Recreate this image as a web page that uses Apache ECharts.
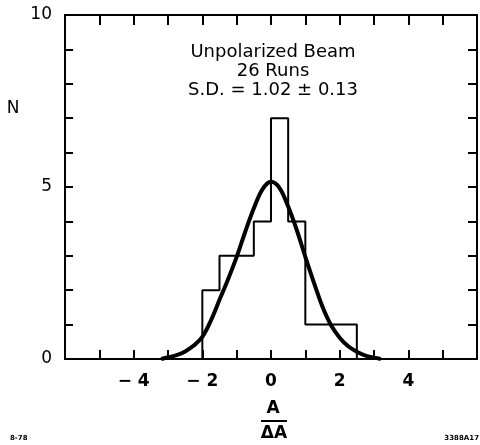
<!DOCTYPE html>
<html><head><meta charset="utf-8">
<script src="https://cdn.jsdelivr.net/npm/echarts@6/dist/echarts.min.js"></script>
<style>html,body{margin:0;padding:0;background:#fff}#c{width:480px;height:445px}</style>
</head><body><div id="c"></div>
<script>
// Histogram: bin edges and counts
const binEdges = [-2, -1.5, -1, -0.5, 0, 0.5, 1, 1.5, 2, 2.5];
const binCounts = [2, 3, 3, 4, 7, 4, 1, 1, 1];
// Fitted Gaussian curve
const curveX = [-3.2, -3.0, -2.75, -2.5, -2.25, -2.0, -1.75, -1.5, -1.25, -1.0, -0.75, -0.5, -0.25, 0.0, 0.25, 0.5, 0.75, 1.0, 1.25, 1.5, 1.75, 2.0, 2.25, 2.5, 2.75, 3.0, 3.2];
const curveY = [0.0, 0.05, 0.11, 0.22, 0.39, 0.64, 1.12, 1.72, 2.32, 2.97, 3.7, 4.38, 4.93, 5.15, 4.97, 4.43, 3.75, 2.97, 2.22, 1.52, 0.98, 0.62, 0.37, 0.21, 0.1, 0.04, 0.0];
const xTickLabels = [-4, -2, 0, 2, 4];
const yTickLabels = [0, 5, 10];
const annotation = ['Unpolarized Beam', '26 Runs', 'S.D. = 1.02 ± 0.13'];

const stepData = [[binEdges[0], 0]];
for (let i = 0; i < binCounts.length; i++) stepData.push([binEdges[i], binCounts[i]]);
stepData.push([binEdges[binEdges.length - 1], binCounts[binCounts.length - 1]]);
stepData.push([binEdges[binEdges.length - 1], 0]);
const curveData = curveX.map((x, i) => [x, curveY[i]]);

const FONT = 'DejaVu Sans';
const chart = echarts.init(document.getElementById('c'), null, {renderer: 'canvas'});
const axisLineStyle = {color: '#000', width: 2};
chart.setOption({
  animation: false,
  backgroundColor: '#fff',
  grid: {left: 65, right: 3, top: 15, bottom: 86},
  xAxis: [{
    type: 'value', min: -6, max: 6, interval: 1, position: 'bottom',
    axisLine: {show: true, onZero: false, lineStyle: axisLineStyle},
    axisTick: {show: true, inside: true, length: 9, lineStyle: {color: '#000', width: 2}},
    splitLine: {show: false},
    axisLabel: {
      margin: 14, color: '#000', fontFamily: FONT, fontSize: 17, fontWeight: 'bold',
      formatter: v => xTickLabels.indexOf(v) >= 0 ? (v < 0 ? '− ' + Math.abs(v) : String(v)) : ''
    }
  }, {
    type: 'value', min: -6, max: 6, interval: 1, position: 'top',
    axisLine: {show: true, onZero: false, lineStyle: axisLineStyle},
    axisTick: {show: true, inside: true, length: 10, lineStyle: {color: '#000', width: 2}},
    splitLine: {show: false}, axisLabel: {show: false}
  }],
  yAxis: [{
    type: 'value', min: 0, max: 10, interval: 1, position: 'left',
    axisLine: {show: true, onZero: false, lineStyle: axisLineStyle},
    axisTick: {show: true, inside: true, length: 8, lineStyle: {color: '#000', width: 2}},
    splitLine: {show: false},
    axisLabel: {
      margin: 13, color: '#000', fontFamily: FONT, fontSize: 17,
      formatter: v => yTickLabels.indexOf(v) >= 0 ? String(v) : ''
    }
  }, {
    type: 'value', min: 0, max: 10, interval: 1, position: 'right',
    axisLine: {show: true, onZero: false, lineStyle: axisLineStyle},
    axisTick: {show: true, inside: true, length: 9, lineStyle: {color: '#000', width: 2}},
    splitLine: {show: false}, axisLabel: {show: false}
  }],
  series: [{
    type: 'line', step: 'end', data: stepData, symbol: 'none',
    lineStyle: {color: '#000', width: 2}, z: 3
  }, {
    type: 'line', smooth: 0.35, data: curveData, symbol: 'none',
    lineStyle: {color: '#000', width: 4}, z: 4
  }],
  graphic: [
    ...annotation.map((t, i) => ({
      type: 'text', x: 273, y: 52 + i * 19,
      style: {text: t, font: '18px "' + FONT + '"', fill: '#000', align: 'center', verticalAlign: 'middle'}
    })),
    {type: 'text', x: 13, y: 109, style: {text: 'N', font: '17px "' + FONT + '"', fill: '#000', align: 'center', verticalAlign: 'middle'}},
    {type: 'text', x: 273, y: 409, style: {text: 'A', font: 'bold 17px "' + FONT + '"', fill: '#000', align: 'center', verticalAlign: 'middle'}},
    {type: 'line', shape: {x1: 261, y1: 421, x2: 287, y2: 421}, style: {stroke: '#000', lineWidth: 2}},
    {type: 'text', x: 274, y: 434, style: {text: 'ΔA', font: 'bold 17px "' + FONT + '"', fill: '#000', align: 'center', verticalAlign: 'middle'}},
    {type: 'text', x: 10, y: 438, style: {text: '8-78', font: 'bold 7px "' + FONT + '"', fill: '#000', align: 'left', verticalAlign: 'middle'}},
    {type: 'text', x: 479, y: 438, style: {text: '3388A17', font: 'bold 7px "' + FONT + '"', fill: '#000', align: 'right', verticalAlign: 'middle'}}
  ]
});
</script></body></html>
